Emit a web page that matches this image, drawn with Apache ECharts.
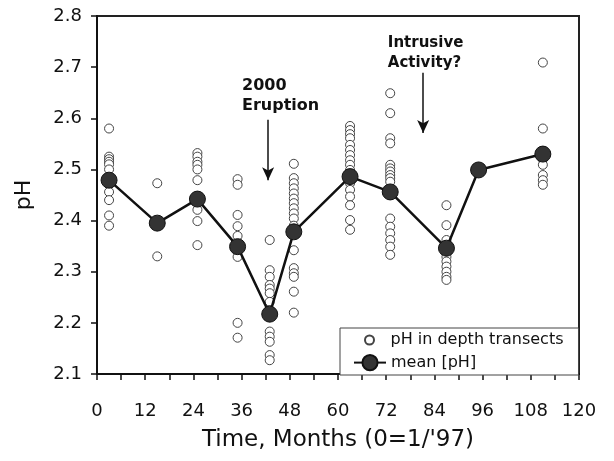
<!DOCTYPE html>
<html><head><meta charset="utf-8">
<script src="https://cdn.jsdelivr.net/npm/echarts@6/dist/echarts.min.js"></script>
<style>html,body{margin:0;padding:0;background:#fff}#c{width:614px;height:461px}</style>
</head><body><div id="c"></div>
<script>
// ---- data ----
const xTickLabels = [0, 12, 24, 36, 48, 60, 72, 84, 96, 108, 120];
const yTickLabels = ['2.1', '2.2', '2.3', '2.4', '2.5', '2.6', '2.7', '2.8'];

const transectMonths = [3, 15, 25, 35, 43, 49, 63, 73, 87, 111];
const transectM3 = [2.58, 2.525, 2.52, 2.515, 2.51, 2.50, 2.48, 2.47, 2.456, 2.44, 2.41, 2.39];
const transectM15 = [2.473, 2.395, 2.33];
const transectM25 = [2.532, 2.525, 2.515, 2.509, 2.50, 2.479, 2.44, 2.421, 2.399, 2.352];
const transectM35 = [2.481, 2.470, 2.411, 2.389, 2.37, 2.35, 2.329, 2.20, 2.171];
const transectM43 = [2.362, 2.303, 2.290, 2.274, 2.267, 2.258, 2.241, 2.225, 2.183, 2.173, 2.163, 2.137, 2.127];
const transectM49 = [2.511, 2.483, 2.473, 2.463, 2.453, 2.443, 2.434, 2.424, 2.414, 2.404, 2.39, 2.342, 2.307, 2.297, 2.290, 2.261, 2.220];
const transectM63 = [2.585, 2.577, 2.569, 2.561, 2.548, 2.538, 2.528, 2.518, 2.509, 2.499, 2.473, 2.460, 2.447, 2.430, 2.401, 2.382];
const transectM73 = [2.649, 2.610, 2.561, 2.551, 2.509, 2.502, 2.496, 2.489, 2.483, 2.476, 2.45, 2.404, 2.388, 2.375, 2.362, 2.349, 2.333];
const transectM87 = [2.430, 2.391, 2.362, 2.346, 2.329, 2.320, 2.310, 2.300, 2.290, 2.284];
const transectM111 = [2.709, 2.580, 2.535, 2.52, 2.509, 2.489, 2.479, 2.470];
const transectValues = [transectM3, transectM15, transectM25, transectM35, transectM43,
  transectM49, transectM63, transectM73, transectM87, transectM111];

const meanMonths = [3, 15, 25, 35, 43, 49, 63, 73, 87, 95, 111];
const meanPH = [2.479, 2.395, 2.442, 2.349, 2.217, 2.378, 2.486, 2.456, 2.346, 2.499, 2.530];

const annotationText = ['2000\nEruption', 'Intrusive\nActivity?'];
const annotationMonth = [36.1, 72.4];
const annotationPH = [2.683, 2.766];
const arrowMonth = [42.6, 81.2];
const arrowTopPH = [2.597, 2.689];
const arrowBottomPH = [2.479, 2.571];

const seriesNames = ['pH in depth transects', 'mean [pH]'];

// ---- build ----
const scatterData = [];
transectMonths.forEach((m, i) => transectValues[i].forEach(v => scatterData.push([m, v])));
const meanData = meanMonths.map((m, i) => [m, meanPH[i]]);
const arrowLines = arrowMonth.map((m, i) => [{ coord: [m, arrowTopPH[i]] }, { coord: [m, arrowBottomPH[i]] }]);

const FONT = 'DejaVu Sans';
const chart = echarts.init(document.getElementById('c'), null, { renderer: 'canvas' });
chart.setOption({
  animation: false,
  backgroundColor: '#fff',
  grid: { left: 97, right: 35, top: 16, bottom: 87, show: true, borderColor: '#222', borderWidth: 2, backgroundColor: 'transparent' },
  xAxis: {
    type: 'value', min: 0, max: 120, interval: 12,
    name: "Time, Months (0=1/'97)", nameLocation: 'middle', nameGap: 55,
    nameTextStyle: { fontFamily: FONT, fontSize: 23, color: '#111' },
    axisLine: { onZero: false, lineStyle: { color: '#111', width: 2 } },
    axisTick: { show: true, inside: false, length: 6, lineStyle: { color: '#111', width: 1.5 } },
    minorTick: { show: true, splitNumber: 2, length: 6, lineStyle: { color: '#111', width: 1.5 } },
    axisLabel: { margin: 28, fontFamily: FONT, fontSize: 18, color: '#111',
      formatter: v => xTickLabels.includes(v) ? String(v) : '' },
    splitLine: { show: false }
  },
  yAxis: {
    type: 'value', min: 2.1, max: 2.8, interval: 0.1,
    name: 'pH', nameLocation: 'middle', nameGap: 62, nameRotate: 90,
    nameTextStyle: { fontFamily: FONT, fontSize: 22, color: '#111' },
    axisLine: { show: true, onZero: false, lineStyle: { color: '#111', width: 2 } },
    axisTick: { show: true, inside: false, length: 6, lineStyle: { color: '#111', width: 1.5 } },
    axisLabel: { margin: 15, fontFamily: FONT, fontSize: 18, color: '#111',
      formatter: v => yTickLabels[Math.round((v - 2.1) * 10)] },
    splitLine: { show: false }
  },
  legend: [
    { data: [seriesNames[0]], left: 340, top: 328, orient: 'vertical',
      itemWidth: 32, itemHeight: 9, padding: [4, 15, 27, 24],
      backgroundColor: '#fff', borderColor: '#444', borderWidth: 1, borderRadius: 0,
      textStyle: { fontFamily: FONT, fontSize: 16, color: '#111' }, z: 10 },
    { data: [seriesNames[1]], left: 341, top: 354, orient: 'vertical',
      itemWidth: 32, itemHeight: 19, padding: [0, 12, 0, 12],
      textStyle: { fontFamily: FONT, fontSize: 16, color: '#111' }, z: 11 }
  ],
  series: [
    { name: seriesNames[0], type: 'scatter', data: scatterData, symbol: 'circle', symbolSize: 9,
      itemStyle: { color: '#fff', borderColor: '#444', borderWidth: 1, opacity: 1 }, z: 2 },
    { name: seriesNames[1], type: 'line', data: meanData, symbol: 'circle', symbolSize: 16,
      itemStyle: { color: '#333', borderColor: '#111', borderWidth: 1 },
      lineStyle: { color: '#111', width: 2.5 }, z: 3,
      markLine: { silent: true, symbol: ['none', 'arrow'], symbolSize: [9, 13],
        label: { show: false }, lineStyle: { color: '#111', width: 1.5, type: 'solid' },
        data: arrowLines } }
  ]
});
const texts = annotationText.map((t, i) => {
  const p = chart.convertToPixel({ gridIndex: 0 }, [annotationMonth[i], annotationPH[i]]);
  return { type: 'text', x: p[0], y: p[1], z: 20,
    style: { text: t, font: 'bold ' + (i === 0 ? 16 : 15) + 'px "DejaVu Sans"', lineHeight: 20, fill: '#111', verticalAlign: 'top', align: 'left' } };
});
chart.setOption({ graphic: texts });
</script>
</body></html>
